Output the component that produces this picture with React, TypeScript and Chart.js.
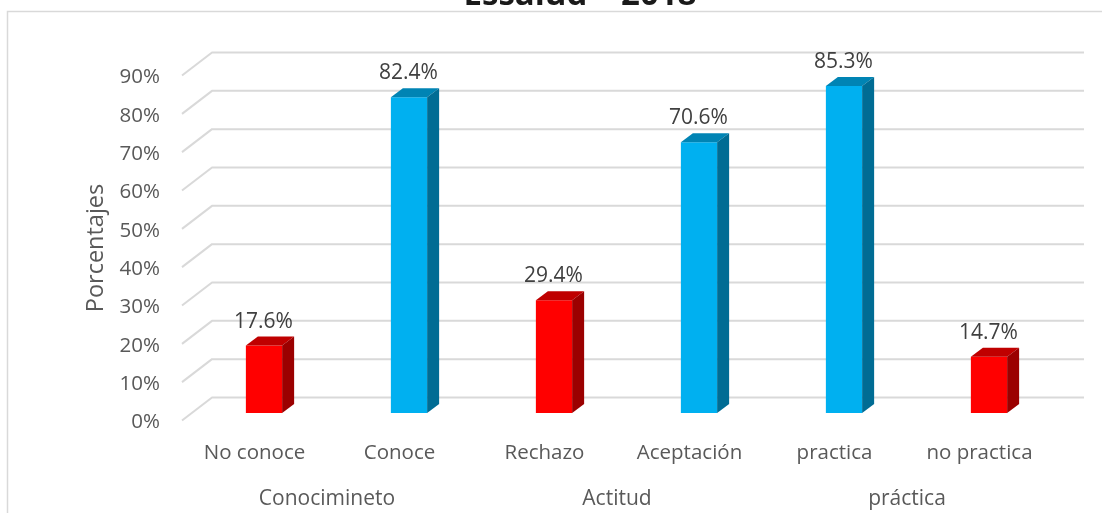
import React, { useEffect, useRef } from "react";
import { Chart, registerables } from "chart.js";

Chart.register(...registerables);

const categories = ["No conoce", "Conoce", "Rechazo", "Aceptación", "practica", "no practica"];
const groups = ["Conocimineto", "Actitud", "práctica"];
const values = [17.6, 82.4, 29.4, 70.6, 85.3, 14.7];
const frontColors = ["#FF0000", "#00B0F0", "#FF0000", "#00B0F0", "#00B0F0", "#FF0000"];
const topColors = ["#BF0000", "#0084B4", "#BF0000", "#0084B4", "#0084B4", "#BF0000"];
const sideColors = ["#9B0000", "#006C94", "#9B0000", "#006C94", "#006C94", "#9B0000"];
const FONT = '"Open Sans", sans-serif';
const TITLE = "Essalud – 2018";

const WALL = { dx: 30, dy: -23, rightExtra: 2 };
const BAR_SHIFT = { x: 9.5, y: -7.5 };
const BAR_DEPTH = { dx: 12, dy: -9 };

const poly = (ctx: CanvasRenderingContext2D, pts: number[][], fill: string) => {
  ctx.beginPath();
  pts.forEach(([x, y], i) => (i ? ctx.lineTo(x, y) : ctx.moveTo(x, y)));
  ctx.closePath();
  ctx.fillStyle = fill;
  ctx.fill();
};

const wallsAndBars = {
  id: "wallsAndBars",
  beforeDraw(chart: any) {
    const { ctx, width, height } = chart;
    const y = chart.scales.y;
    const x = chart.scales.x;
    ctx.save();
    ctx.fillStyle = "#fff";
    ctx.fillRect(0, 0, width, height);
    // outer frame of the chart, cut by the picture edges
    ctx.strokeStyle = "#D9D9D9";
    ctx.lineWidth = 1.5;
    ctx.beginPath();
    ctx.moveTo(7.5, height + 2);
    ctx.lineTo(7.5, 11.5);
    ctx.lineTo(width + 2, 11.5);
    ctx.stroke();
    // clipped title
    ctx.fillStyle = "#1a1a1a";
    ctx.font = `bold 33px ${FONT}`;
    ctx.textAlign = "center";
    ctx.textBaseline = "alphabetic";
    ctx.fillText(TITLE, 580, 5);
    // side-wall and back-wall gridlines
    ctx.strokeStyle = "#D9D9D9";
    ctx.lineWidth = 2;
    ctx.lineJoin = "round";
    y.ticks.forEach((t: any) => {
      const py = y.getPixelForValue(t.value);
      ctx.beginPath();
      ctx.moveTo(x.left, py);
      ctx.lineTo(x.left + WALL.dx, py + WALL.dy);
      ctx.lineTo(x.right + WALL.dx + WALL.rightExtra, py + WALL.dy);
      ctx.stroke();
    });
    ctx.restore();
  },
  beforeDatasetsDraw(chart: any) {
    chart.ctx.save();
    chart.ctx.translate(BAR_SHIFT.x, BAR_SHIFT.y);
  },
  afterDatasetsDraw(chart: any) {
    const { ctx } = chart;
    const bars = chart.getDatasetMeta(0).data;
    bars.forEach((b: any, i: number) => {
      const half = b.width / 2;
      const l = b.x - half;
      const r = b.x + half;
      const { dx, dy } = BAR_DEPTH;
      poly(ctx, [[l, b.y], [r, b.y], [r + dx, b.y + dy], [l + dx, b.y + dy]], topColors[i]);
      poly(ctx, [[r, b.y], [r + dx, b.y + dy], [r + dx, b.base + dy], [r, b.base]], sideColors[i]);
    });
    ctx.restore();
    ctx.save();
    ctx.fillStyle = "#404040";
    ctx.font = `21px ${FONT}`;
    ctx.textAlign = "center";
    ctx.textBaseline = "middle";
    bars.forEach((b: any, i: number) => {
      ctx.fillText(`${values[i].toFixed(1)}%`, b.x + BAR_SHIFT.x - 0.5, b.y + BAR_SHIFT.y - 24);
    });
    ctx.restore();
  },
};

export default function App() {
  const ref = useRef<HTMLCanvasElement>(null);
  useEffect(() => {
    const chart = new Chart(ref.current as HTMLCanvasElement, {
      type: "bar",
      data: {
        labels: categories,
        datasets: [
          {
            data: values,
            backgroundColor: frontColors,
            barPercentage: 0.25,
            categoryPercentage: 1,
            borderWidth: 0,
          },
        ],
      },
      plugins: [wallsAndBars],
      options: {
        responsive: false,
        animation: false,
        devicePixelRatio: 1,
        layout: { padding: { left: 82, top: 75.5, right: 50, bottom: 0 } },
        plugins: { legend: { display: false }, tooltip: { enabled: false }, title: { display: false } },
        scales: {
          x: {
            type: "category",
            position: "bottom",
            grid: { display: false },
            border: { display: false },
            ticks: { color: "#595959", font: { family: FONT, size: 20.5 }, padding: 12, maxRotation: 0, autoSkip: false },
            afterFit: (s: any) => { s.height = 46; },
          },
          x2: {
            type: "category",
            position: "bottom",
            labels: groups,
            grid: { display: false },
            border: { display: false },
            ticks: { color: "#595959", font: { family: FONT, size: 21 }, padding: 12, maxRotation: 0, autoSkip: false },
            afterFit: (s: any) => { s.height = 46.5; },
          },
          y: {
            min: 0,
            max: 90,
            position: "left",
            grid: { display: false },
            border: { display: false },
            ticks: {
              stepSize: 10,
              color: "#595959",
              font: { family: FONT, size: 20.5 },
              padding: 14,
              labelOffset: 2,
              callback: (v: any) => `${v}%`,
            },
            title: { display: true, text: "Porcentajes", color: "#595959", font: { family: FONT, size: 23.5 }, padding: 0 },
            afterFit: (s: any) => { s.width = 100; },
          },
        },
      },
    } as any);
    return () => chart.destroy();
  }, []);
  return (
    <canvas
      ref={ref}
      width={1102}
      height={513}
      style={{ position: "fixed", left: 0, top: 0, width: 1102, height: 513, display: "block" }}
    />
  );
}
